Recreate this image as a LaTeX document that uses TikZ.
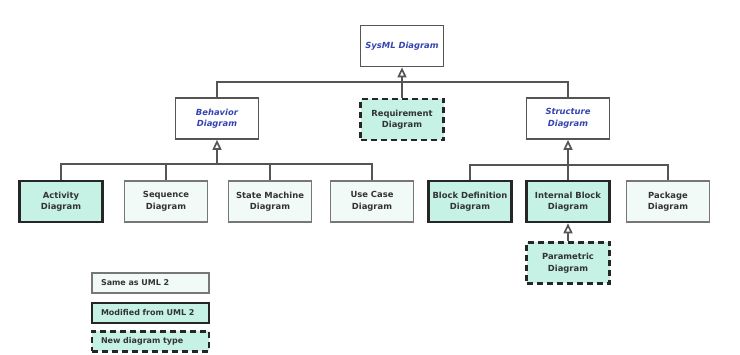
\documentclass[tikz,border=0pt]{standalone}
\usepackage{fontspec}
\setmainfont{DejaVu Sans}
\usetikzlibrary{arrows.meta,positioning}
\definecolor{teal1}{HTML}{C6F2E6}
\definecolor{pale}{HTML}{F2FAF8}
\definecolor{linec}{HTML}{555555}
\definecolor{txt}{HTML}{333333}
\definecolor{bluet}{HTML}{3345B0}
\tikzset{
  box/.style={rectangle, minimum width=83pt, minimum height=41pt, align=center,
    font=\fontsize{8.4}{11.5}\selectfont\bfseries, text=txt, inner sep=1pt},
  same/.style={box, draw=linec!80, line width=1.7pt, fill=pale},
  modif/.style={box, draw=black!85, line width=2.6pt, fill=teal1},
  newt/.style={box, draw=black!85, line width=2.6pt, dash pattern=on 6pt off 4pt, fill=teal1},
  abstr/.style={box, draw=linec, line width=1.7pt, fill=white,
    font=\fontsize{8.4}{11.5}\selectfont\bfseries\itshape, text=bluet},
  legb/.style={rectangle, minimum width=117pt, minimum height=20pt, text width=99pt,
    align=left, font=\fontsize{8}{10}\selectfont\bfseries, text=txt, inner sep=0pt},
  conn/.style={draw=linec, line width=1.7pt},
  gen/.style={conn, -{Triangle[open, length=10pt, width=9pt]}},
}
\begin{document}
\begin{tikzpicture}[x=1pt,y=-1pt]
\useasboundingbox (0,0) rectangle (740,355);
% top
\node[abstr] (sysml) at (402,46) {SysML Diagram};
\node[abstr] (beh) at (217,118.5) {Behavior\\Diagram};
\node[newt] (req) at (402,119.5) {Requirement\\Diagram};
\node[abstr] (str) at (568,118.5) {Structure\\Diagram};
% behavior children
\node[modif] (act) at (61,201.5) {Activity\\Diagram};
\node[same] (seq) at (166,201.5) {Sequence\\Diagram};
\node[same] (stm) at (270,201.5) {State Machine\\Diagram};
\node[same] (uc) at (372,201.5) {Use Case\\Diagram};
% structure children
\node[modif] (bdd) at (470,201.5) {Block Definition\\Diagram};
\node[modif] (ibd) at (568,201.5) {Internal Block\\Diagram};
\node[same] (pkg) at (668,201.5) {Package\\Diagram};
\node[newt] (par) at (568,263) {Parametric\\Diagram};
% legend
\node[legb, draw=linec!80, line width=1.7pt, fill=pale] (l1) at (150.5,283) {Same as UML 2};
\node[legb, draw=black!85, line width=2.6pt, fill=teal1] (l2) at (150.5,313) {Modified from UML 2};
\node[legb, draw=black!85, line width=2.6pt, dash pattern=on 6pt off 4pt, fill=teal1] (l3) at (150.5,341.5) {New diagram type};
% connectors
\coordinate (tj) at (402,82);
\coordinate (bj) at (217,164);
\coordinate (sj) at (568,165);
\draw[conn] (beh.north) |- (tj);
\draw[conn] (str.north) |- (tj);
\draw[conn] (req.north) -- (tj);
\draw[gen] (tj) -- (sysml.south);
\draw[conn] (act.north) |- (bj);
\draw[conn] (seq.north) |- (bj);
\draw[conn] (stm.north) |- (bj);
\draw[conn] (uc.north) |- (bj);
\draw[gen] (bj) -- (beh.south);
\draw[conn] (bdd.north) |- (sj);
\draw[conn] (pkg.north) |- (sj);
\draw[conn] (ibd.north) -- (sj);
\draw[gen] (sj) -- (str.south);
\draw[gen] (par.north) -- (ibd.south);
\end{tikzpicture}
\end{document}
